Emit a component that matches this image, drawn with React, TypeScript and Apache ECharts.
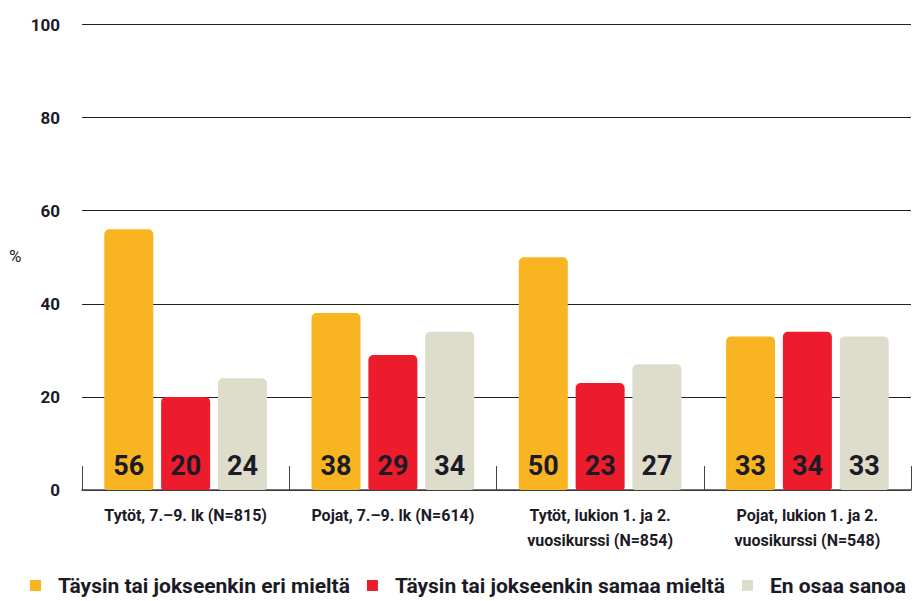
import React, { useEffect, useRef } from "react";
import * as echarts from "echarts";

const categories = [
  "Tytöt, 7.–9. lk (N=815)",
  "Pojat, 7.–9. lk (N=614)",
  "Tytöt, lukion 1. ja 2.\nvuosikurssi (N=854)",
  "Pojat, lukion 1. ja 2.\nvuosikurssi (N=548)",
];
const seriesNames = [
  "Täysin tai jokseenkin eri mieltä",
  "Täysin tai jokseenkin samaa mieltä",
  "En osaa sanoa",
];
const eriMielta = [56, 38, 50, 33];
const samaaMielta = [20, 29, 23, 34];
const enOsaa = [24, 34, 27, 33];
const yTicks = [0, 20, 40, 60, 80, 100];

const FONT = "Roboto, sans-serif";
const colors = ["#F9B521", "#EC1C2C", "#DEDCCA"];

export default function App() {
  const ref = useRef<HTMLDivElement>(null);
  useEffect(() => {
    if (!ref.current) return;
    const chart = echarts.init(ref.current, undefined, { renderer: "svg" });
    const mk = (name: string, data: number[], i: number) => ({
      name,
      type: "bar",
      data,
      barWidth: 49,
      barGap: "16%",
      itemStyle: { color: colors[i], borderRadius: [5, 5, 3, 3] },
      label: {
        show: true,
        position: "insideBottom",
        distance: 11,
        fontFamily: FONT,
        fontWeight: "bold",
        fontSize: 27,
        color: "#1b1b26",
      },
    });
    chart.setOption({
      animation: false,
      textStyle: { fontFamily: FONT },
      grid: { left: 82, right: 12, top: 24.5, bottom: 111, containLabel: false },
      legend: {
        left: 30,
        top: 575,
        width: 893,
        padding: 0,
        icon: "rect",
        itemWidth: 11,
        itemHeight: 11,
        itemGap: 17,
        data: seriesNames,
        textStyle: { fontFamily: FONT, fontWeight: "bold", fontSize: 21, color: "#1b1b26", padding: [0, 0, 0, 12] },
      },
      graphic: [
        { type: "text", left: 9, top: 247, style: { text: "%", fontFamily: FONT, fontSize: 17, fill: "#1b1b26" } },
      ],
      xAxis: {
        type: "category",
        data: categories,
        axisLine: { show: true, lineStyle: { color: "#444", width: 1.5 } },
        axisTick: { show: true, inside: true, length: 24, lineStyle: { color: "#444" } },
        axisLabel: {
          margin: 13,
          fontFamily: FONT,
          fontWeight: "bold",
          fontSize: 16,
          lineHeight: 25,
          color: "#1b1b26",
          interval: 0,
        },
      },
      yAxis: {
        type: "value",
        min: yTicks[0],
        max: yTicks[yTicks.length - 1],
        interval: 20,
        axisLine: { show: false },
        axisTick: { show: false },
        splitLine: { show: true, lineStyle: { color: "#222", width: 1 } },
        axisLabel: { margin: 22, fontFamily: FONT, fontWeight: "bold", fontSize: 17, color: "#1b1b26" },
      },
      series: [mk(seriesNames[0], eriMielta, 0), mk(seriesNames[1], samaaMielta, 1), mk(seriesNames[2], enOsaa, 2)],
    });
    return () => chart.dispose();
  }, []);
  return <div ref={ref} style={{ width: 923, height: 601, position: "absolute", left: 0, top: 0 }} />;
}
